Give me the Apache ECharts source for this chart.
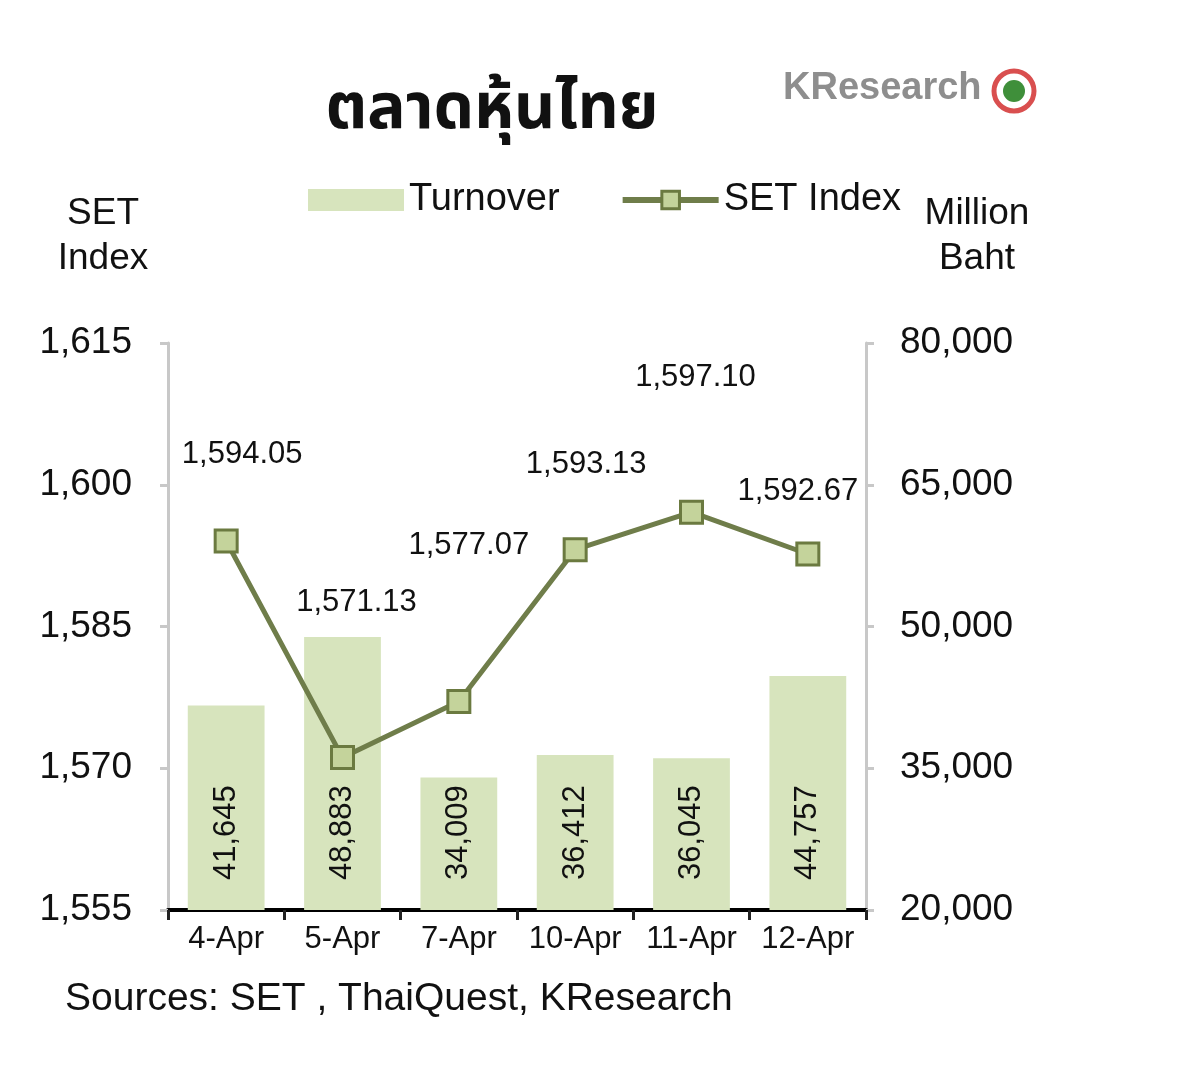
<!DOCTYPE html>
<html>
<head>
<meta charset="utf-8">
<script src="https://cdn.jsdelivr.net/npm/echarts@6/dist/echarts.min.js"></script>
<style>
html,body{margin:0;padding:0;background:#fff;}
#c{width:1200px;height:1082px;}
</style>
</head>
<body>
<div id="c"></div>
<script>
const categories = ['4-Apr', '5-Apr', '7-Apr', '10-Apr', '11-Apr', '12-Apr'];
const turnover = [41645, 48883, 34009, 36412, 36045, 44757];
const setIndex = [1594.05, 1571.13, 1577.07, 1593.13, 1597.10, 1592.67];
const leftTicks = [1555, 1570, 1585, 1600, 1615];
const rightTicks = [20000, 35000, 50000, 65000, 80000];

// label placement tweaks (not data)
const labelShift = [[16, -87], [14, -155], [10, -156], [11, -85], [4, -135], [-10, -63]];

const FONT = "'Liberation Sans', Arial, sans-serif";
const fmt = (v, d) => v.toLocaleString('en-US', {minimumFractionDigits: d, maximumFractionDigits: d});

const chart = echarts.init(document.getElementById('c'), null, {renderer: 'canvas'});
chart.setOption({
  backgroundColor: '#ffffff',
  animation: false,
  textStyle: {fontFamily: FONT},
  title: {
    text: 'ตลาดหุ้นไทย',
    left: 487, top: 78, textAlign: 'center',
    textStyle: {fontSize: 64, fontWeight: 'bold', color: '#111', fontFamily: "'Noto Sans Thai', 'Noto Sans', 'DejaVu Sans', sans-serif"}
  },
  legend: {
    top: 176, left: 303,
    itemGap: 60,
    itemWidth: 96, itemHeight: 22,
    textStyle: {fontSize: 38, color: '#111', fontFamily: FONT},
    data: [
      {name: 'Turnover', icon: 'rect'},
      {name: 'SET Index', itemStyle: {color: '#c4d39b', borderColor: '#6b7a40', borderWidth: 3}, lineStyle: {width: 6, color: '#6f7d4a'}}
    ]
  },
  grid: {left: 168, right: 334, top: 343, bottom: 172},
  xAxis: {
    type: 'category',
    data: categories,
    axisLine: {lineStyle: {color: '#000', width: 4}},
    axisTick: {show: true, length: 10, lineStyle: {color: '#222', width: 3}},
    axisLabel: {interval: 0, fontSize: 31, color: '#111', margin: 14, fontFamily: FONT}
  },
  yAxis: [
    {
      type: 'value', min: leftTicks[0], max: leftTicks[leftTicks.length - 1], interval: 15,
      position: 'left',
      name: 'SET\nIndex', nameLocation: 'end', nameGap: 62,
      nameTextStyle: {fontSize: 37, color: '#111', align: 'center', lineHeight: 45, padding: [0, 130, 0, 0], fontFamily: FONT},
      axisLine: {show: true, lineStyle: {color: '#c8c8c8', width: 3}},
      axisTick: {show: true, length: 8, lineStyle: {color: '#c8c8c8', width: 3}},
      splitLine: {show: false},
      axisLabel: {fontSize: 37, color: '#111', margin: 36, fontFamily: FONT, formatter: v => fmt(v, 0)}
    },
    {
      type: 'value', min: rightTicks[0], max: rightTicks[rightTicks.length - 1], interval: 15000,
      position: 'right',
      name: 'Million\nBaht', nameLocation: 'end', nameGap: 62,
      nameTextStyle: {fontSize: 37, color: '#111', align: 'center', lineHeight: 45, padding: [0, 0, 0, 222], fontFamily: FONT},
      axisLine: {show: true, lineStyle: {color: '#c8c8c8', width: 3}},
      axisTick: {show: true, length: 8, lineStyle: {color: '#c8c8c8', width: 3}},
      splitLine: {show: false},
      axisLabel: {fontSize: 37, color: '#111', margin: 34, fontFamily: FONT, formatter: v => fmt(v, 0)}
    }
  ],
  series: [
    {
      name: 'Turnover', type: 'bar', yAxisIndex: 1,
      data: turnover,
      barWidth: '66%',
      itemStyle: {color: '#d7e4bd'},
      label: {
        show: true, position: 'insideBottom', rotate: 90, distance: 30,
        align: 'left', verticalAlign: 'middle',
        fontSize: 31, color: '#111', fontFamily: FONT,
        formatter: p => fmt(p.value, 0)
      },
      z: 1
    },
    {
      name: 'SET Index', type: 'line', yAxisIndex: 0,
      data: setIndex.map((v, i) => ({
        value: v,
        label: {offset: labelShift[i]}
      })),
      symbol: 'rect', symbolSize: 22,
      lineStyle: {color: '#6f7d4a', width: 5},
      itemStyle: {color: '#c4d39b', borderColor: '#6b7a40', borderWidth: 3},
      label: {
        show: true, position: 'inside',
        fontSize: 31, color: '#111', fontFamily: FONT,
        formatter: p => fmt(p.value, 2)
      },
      z: 5
    }
  ],
  graphic: [
    {
      type: 'text', left: 65, top: 980,
      style: {text: 'Sources: SET , ThaiQuest, KResearch', font: "39px " + FONT, fill: '#111'}
    },
    {
      type: 'text', left: 783, top: 70,
      style: {text: 'KResearch', font: "bold 38px " + FONT, fill: '#8e8e8e'}
    },
    {
      type: 'circle', shape: {cx: 1014, cy: 91, r: 20},
      style: {fill: '#fff', stroke: '#d94f4f', lineWidth: 5}
    },
    {
      type: 'circle', shape: {cx: 1014, cy: 91, r: 11},
      style: {fill: '#3f8f3a'}
    }
  ]
});
</script>
</body>
</html>
